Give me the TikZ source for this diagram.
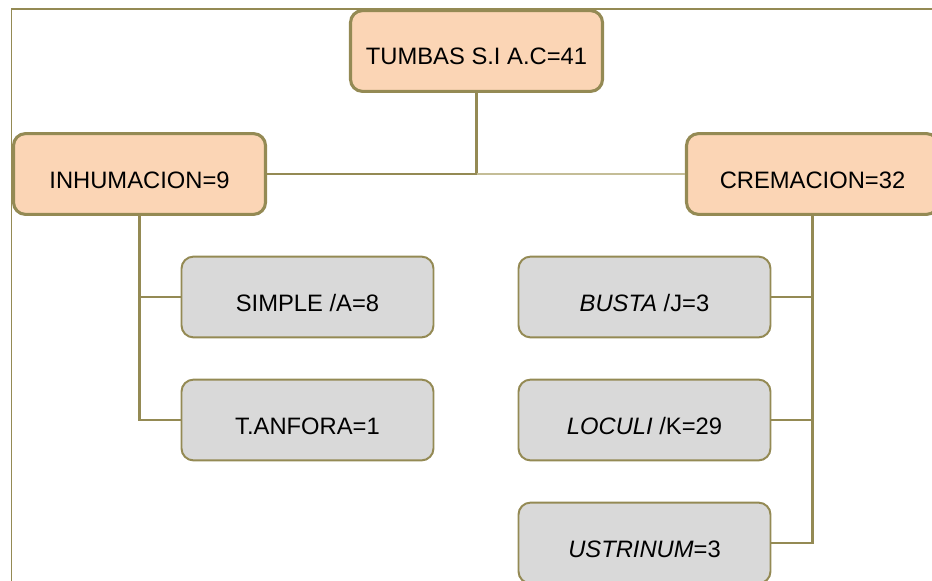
\documentclass[tikz,border=0pt]{standalone}
\usepackage{fontspec}
\setmainfont{Liberation Sans}
\usetikzlibrary{positioning}

\definecolor{lineolive}{HTML}{948A54}
\definecolor{lightolive}{HTML}{C4BD97}
\definecolor{peach}{HTML}{FBD5B5}
\definecolor{boxgray}{HTML}{D9D9D9}

\begin{document}
\begin{tikzpicture}[
    node distance=3.075cm,
    every node/.style={font=\fontsize{16.9}{20}\selectfont},
    main/.style={rectangle, rounded corners=0.3cm, draw=lineolive, line width=2.2pt,
        fill=peach, minimum width=6.3cm, minimum height=2.02cm,
        text height=0.85cm, text depth=0.15cm},
    sub/.style={main, line width=1.4pt, fill=boxgray},
    link/.style={draw=lineolive, line width=1.9pt}
]
\path[use as bounding box, clip] (0,0) rectangle (23.3,-14.525);

% Frame
\draw[lineolive, line width=1pt] (0.29,-14.6) |- (23.4,-0.225);

% Nodes
\node[main] (tumbas) at (11.9125,-1.275) {TUMBAS S.I A.C=41};
\node[main, below of=tumbas, xshift=-8.425cm] (inhum) {INHUMACION=9};
\node[main, right of=inhum, node distance=16.825cm] (crem) {CREMACION=32};

\node[sub, below of=inhum, xshift=4.2cm] (simple) {SIMPLE /A=8};
\node[sub, below of=simple] (anfora) {T.ANFORA=1};

\node[sub, below of=crem, xshift=-4.2cm] (busta) {\textit{BUSTA} /J=3};
\node[sub, below of=busta] (loculi) {\textit{LOCULI} /K=29};
\node[sub, below of=loculi] (ustrinum) {\textit{USTRINUM}=3};

% Lines
\draw[link] (tumbas.south) |- (inhum.east);
\draw[link, draw=lightolive] (tumbas.south |- crem.west) -- (crem.west);
\foreach \n in {simple,anfora}
    \draw[link] (inhum.south) |- (\n.west);
\foreach \n in {busta,loculi,ustrinum}
    \draw[link] (crem.south) |- (\n.east);

\end{tikzpicture}
\end{document}
